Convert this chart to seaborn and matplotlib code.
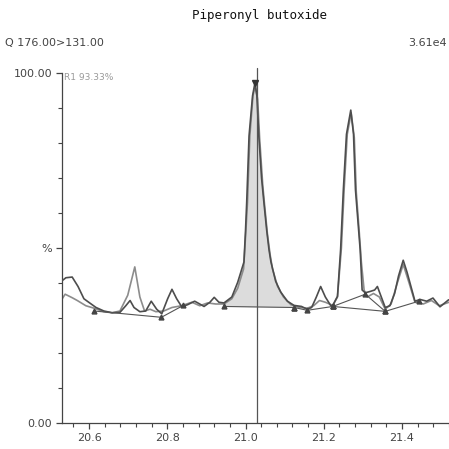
import numpy as np
import pandas as pd
import matplotlib
matplotlib.use("Agg")
import matplotlib.pyplot as plt
import seaborn as sns

# ---- data ----
title = "Piperonyl butoxide"
channel_label = "Q 176.00>131.00"
intensity_label = "3.61e4"
ratio_label = "R1 93.33%"
xtick_values = [20.6, 20.8, 21.0, 21.2, 21.4]
xtick_labels = ["20.6", "20.8", "21.0", "21.2", "21.4"]
ytick_values = [0, 50, 100]
ytick_labels = ["0.00", "%", "100.00"]
apex_rt = 21.029

trace1_rt = [20.526, 20.541, 20.557, 20.572, 20.587, 20.603, 20.618, 20.638, 20.659, 20.679,
             20.694, 20.705, 20.715, 20.730, 20.745, 20.759, 20.773, 20.786, 20.801, 20.812,
             20.824, 20.837, 20.852, 20.870, 20.883, 20.894, 20.909, 20.920, 20.932, 20.945,
             20.965, 20.980, 20.996, 21.000, 21.003, 21.009, 21.018, 21.024, 21.029, 21.034,
             21.041, 21.047, 21.054, 21.060, 21.065, 21.077, 21.090, 21.107, 21.124, 21.143,
             21.158, 21.169, 21.181, 21.192, 21.204, 21.218, 21.223, 21.235, 21.243, 21.250,
             21.258, 21.269, 21.276, 21.281, 21.289, 21.293, 21.298, 21.306, 21.319, 21.330,
             21.337, 21.347, 21.357, 21.369, 21.381, 21.391, 21.403, 21.413, 21.424, 21.433,
             21.446, 21.463, 21.479, 21.497, 21.519]
trace1_pct = [40.2, 41.5, 41.7, 39.0, 35.5, 34.2, 33.0, 32.0, 31.5, 31.6,
              33.5, 35.0, 33.0, 31.8, 32.0, 34.8, 32.5, 31.2, 35.5, 38.2,
              35.5, 33.2, 33.8, 34.8, 34.0, 33.3, 34.5, 35.9, 34.5, 34.3,
              36.0, 40.2, 46.0, 55.0, 63.0, 82.0, 93.5, 97.1, 93.5, 82.0,
              70.0, 63.0, 55.2, 49.5, 46.0, 40.5, 37.4, 34.8, 33.6, 33.3,
              32.5, 33.0, 36.0, 39.0, 36.0, 33.5, 33.6, 36.2, 49.5, 66.6,
              82.5, 89.4, 82.5, 66.6, 55.2, 49.5, 38.0, 37.2, 37.6, 38.0,
              39.0, 36.0, 33.0, 33.5, 37.0, 42.0, 46.5, 43.0, 38.5, 34.8,
              35.3, 34.8, 35.7, 33.2, 35.2]

trace2_rt = [20.526, 20.539, 20.557, 20.570, 20.592, 20.613, 20.638, 20.659, 20.679, 20.699,
             20.717, 20.730, 20.742, 20.756, 20.771, 20.791, 20.812, 20.836, 20.863, 20.883,
             20.903, 20.924, 20.945, 20.965, 20.980, 20.995, 21.001, 21.005, 21.011, 21.019,
             21.025, 21.031, 21.036, 21.044, 21.049, 21.056, 21.063, 21.069, 21.082, 21.097,
             21.116, 21.138, 21.158, 21.174, 21.189, 21.204, 21.223, 21.235, 21.245, 21.252,
             21.260, 21.270, 21.278, 21.283, 21.291, 21.296, 21.303, 21.311, 21.327, 21.342,
             21.357, 21.372, 21.388, 21.403, 21.418, 21.433, 21.454, 21.475, 21.495, 21.520]
trace2_pct = [34.5, 36.8, 35.8, 35.0, 33.5, 32.8, 31.8, 31.5, 32.0, 36.5,
              44.6, 36.0, 32.0, 32.5, 31.8, 32.0, 33.0, 33.5, 34.5, 33.5,
              34.3, 34.0, 34.0, 35.5, 38.5, 44.0, 55.0, 63.0, 82.0, 93.5,
              96.5, 92.5, 81.5, 68.0, 62.0, 54.0, 48.0, 44.0, 39.0, 36.0,
              33.8, 33.0, 32.8, 33.5, 35.0, 34.5, 33.6, 36.0, 50.0, 66.6,
              82.5, 88.6, 81.5, 66.0, 54.0, 46.0, 38.0, 36.0, 37.0, 36.0,
              32.5, 34.0, 40.0, 45.3, 40.0, 34.5, 34.0, 35.0, 33.5, 34.5]

baseline_segments_rt = [[20.613, 20.785, 20.841],
                        [20.945, 21.124],
                        [21.124, 21.158, 21.223],
                        [21.223, 21.306, 21.357],
                        [21.223, 21.357, 21.443]]
baseline_segments_pct = [[32.0, 30.2, 33.6],
                         [33.3, 33.0],
                         [33.0, 32.2, 33.3],
                         [33.3, 36.8, 31.9],
                         [33.3, 31.9, 34.8]]
integrated_start, integrated_end = 20.945, 21.124

# ---- drawing ----
sns.set_style("ticks")
plt.rcParams['font.family'] = ['DejaVu Sans']

fig = plt.figure(figsize=(4.49, 4.49), dpi=100)
ax = fig.add_axes([62 / 449, 26 / 449, 387 / 449, 357 / 449])

df1 = pd.DataFrame({"rt": trace1_rt, "pct": trace1_pct})
df2 = pd.DataFrame({"rt": trace2_rt, "pct": trace2_pct})

# filled integrated area under main peak
r1 = np.array(trace1_rt)
p1 = np.array(trace1_pct)
m = (r1 >= integrated_start) & (r1 <= integrated_end)
bl = np.interp(r1[m], baseline_segments_rt[1], baseline_segments_pct[1])
ax.fill_between(r1[m], bl, p1[m], color="#dcdcdc", lw=0, zorder=1)

sns.lineplot(data=df2, x="rt", y="pct", sort=False, estimator=None, ax=ax,
             color="#8c8c8c", lw=1.2, zorder=2)
sns.lineplot(data=df1, x="rt", y="pct", sort=False, estimator=None, ax=ax,
             color="#4d4d4d", lw=1.2, zorder=3)

for xs, ys in zip(baseline_segments_rt, baseline_segments_pct):
    ax.plot(xs, ys, color="#555555", lw=0.8, zorder=4)
    ax.plot(xs, ys, ls="none", marker="^", ms=3.5, color="#444444", zorder=5)

# retention time marker
ax.plot([apex_rt, apex_rt], [0, 101.5], color="#555555", lw=0.9, zorder=4)
ax.plot([trace1_rt[37]], [trace1_pct[37]], marker="v", ms=5, color="#333333", zorder=6)

ax.set_xlim(20.531, 21.519)
ax.set_ylim(0, 102)
ax.set_xticks(xtick_values)
ax.set_xticklabels(xtick_labels)
ax.set_xticks(np.arange(20.56, 21.52, 0.04), minor=True)
ax.set_yticks(ytick_values)
ax.set_yticklabels(ytick_labels)
ax.set_yticks(np.arange(0, 101, 10), minor=True)
ax.set_xlabel("")
ax.set_ylabel("")
ax.tick_params(axis="both", which="major", length=4, width=0.9, colors="#444444",
               labelsize=8, labelcolor="#444444", pad=3)
ax.tick_params(axis="both", which="minor", length=3, width=0.8, colors="#444444")
for side in ("top", "right"):
    ax.spines[side].set_visible(False)
ax.spines["left"].set_bounds(0, 100)
ax.spines["left"].set_color("#444444")
ax.spines["bottom"].set_color("#444444")
ax.spines["left"].set_linewidth(0.9)
ax.spines["bottom"].set_linewidth(0.9)

fig.text(259 / 449, 1 - 16 / 449, title, ha="center", va="center",
         family="DejaVu Sans Mono", fontsize=9, color="#111111")
fig.text(5 / 449, 1 - 43 / 449, channel_label, ha="left", va="center",
         fontsize=8, color="#444444")
fig.text(447 / 449, 1 - 43 / 449, intensity_label, ha="right", va="center",
         fontsize=8, color="#444444")
ax.text(20.535, 100, ratio_label, ha="left", va="top", fontsize=6.5, color="#999999")

fig.savefig("out.png", dpi=100, facecolor="white")
